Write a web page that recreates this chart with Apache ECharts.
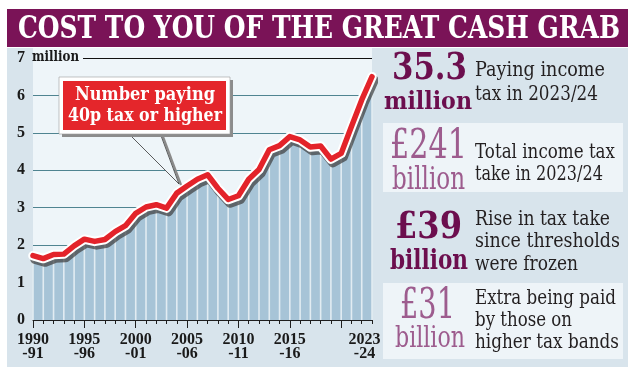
<!DOCTYPE html>
<html><head><meta charset="utf-8">
<script src="https://cdn.jsdelivr.net/npm/echarts@6/dist/echarts.min.js"></script>
<style>html,body{margin:0;padding:0;background:#fff}#c{width:636px;height:382px}</style>
</head><body><div id="c"></div>
<script>
// ---------- DATA ----------
const categories = ['1990','1991','1992','1993','1994','1995','1996','1997','1998','1999',
  '2000','2001','2002','2003','2004','2005','2006','2007','2008','2009',
  '2010','2011','2012','2013','2014','2015','2016','2017','2018','2019',
  '2020','2021','2022','2023'];
// Number paying 40p tax or higher (millions)
const higherRatePayers = [1.72,1.64,1.75,1.76,1.98,2.16,2.10,2.15,2.36,2.52,
  2.85,3.02,3.08,2.99,3.39,3.58,3.76,3.88,3.52,3.22,
  3.32,3.76,4.02,4.55,4.66,4.90,4.81,4.62,4.65,4.30,
  4.45,5.17,5.88,6.50];
const xLabelYears  = ['1990','1995','2000','2005','2010','2015','2023'];
const xLabelSuffix = ['-91','-96','-01','-06','-11','-16','-24'];
const majorTickYears = ['1990','1995','2000','2005','2010','2015','2020'];
const yMin = 0, yMax = 7, yStep = 1;
const yUnit = 'million';
const titleText = 'COST TO YOU OF THE GREAT CASH GRAB';
const calloutLines = ['Number paying', '40p tax or higher'];
const statFigures = ['35.3', '£241', '£39', '£31'];
const statUnits = ['million', 'billion', 'billion', 'billion'];
const statNotes = [
  ['Paying income', 'tax in 2023/24'],
  ['Total income tax', 'take in 2023/24'],
  ['Rise in tax take', 'since thresholds', 'were frozen'],
  ['Extra being paid', 'by those on', 'higher tax bands']
];

// ---------- STYLE / LAYOUT ----------
const C = {
  titleBar: '#7a1357', panel: '#d8e4ec', plotBg: '#eef5f9', box: '#eef4f8',
  dark: '#6c0e4e', light: '#9d5c8e', text: '#231f20', red: '#e3232a',
  area: '#a7c4d7', sep: '#e2ecf2', grid: '#4f8491'
};
const SERIF = '"DejaVu Serif"';
const NARROW = '"Liberation Sans Narrow"';
const ctx = document.createElement('canvas').getContext('2d');
function txt(str, o) {
  const weight = o.bold ? 'bold' : 'normal';
  ctx.font = weight + ' ' + o.size + 'px ' + (o.family || SERIF);
  const w = ctx.measureText(str).width;
  return {
    type: 'text', x: o.x, y: o.y, scaleX: o.w ? o.w / w : 1, z: o.z || 100,
    style: { text: str, fontSize: o.size, fontWeight: weight, fontFamily: o.family || SERIF,
      fill: o.color, align: 'left', verticalAlign: 'middle' }
  };
}

const figLayout = [
  {x:392, y:69.5, size:38, w:75, bold:true, color:C.dark},
  {x:390, y:147.5, size:41, w:77, bold:false, color:C.light},
  {x:395, y:228.5, size:36.5, w:67, bold:true, color:C.dark},
  {x:400, y:306.5, size:43, w:55, bold:false, color:C.light}
];
const unitLayout = [
  {x:384, y:102, size:25, w:88, bold:true, color:C.dark},
  {x:392, y:180.5, size:32, w:73, bold:false, color:C.light},
  {x:390, y:261.5, size:28.5, w:78, bold:true, color:C.dark},
  {x:395, y:339.5, size:29, w:70, bold:false, color:C.light}
];
const noteLayout = [
  [[70.8,130],[94.5,123]],
  [[152.8,140],[174.5,128]],
  [[219.5,135],[241.8,145],[264.5,103]],
  [[298.8,141],[320.8,97],[342.8,144]]
];

const chart = echarts.init(document.getElementById('c'), null, {renderer: 'canvas'});

const gridLeft = 33, gridRight = 264, gridTop = 58, gridBottom = 62;
const splitColors = [];
for (let v = yMin; v <= yMax; v += yStep) splitColors.push(v === yMin || v === yMax ? 'rgba(0,0,0,0)' : C.grid);

const option = {
  animation: false,
  backgroundColor: '#ffffff',
  grid: { left: gridLeft, right: gridRight, top: gridTop, bottom: gridBottom, containLabel: false },
  xAxis: [{
    type: 'category', data: categories, boundaryGap: false, position: 'bottom',
    axisLine: { show: true, lineStyle: { color: '#1e1e1e', width: 1 } },
    axisTick: { show: true, interval: 0, length: 4, lineStyle: { color: '#1e1e1e', width: 1 } },
    splitLine: { show: false },
    axisLabel: {
      show: true, margin: 13, lineHeight: 14,
      fontFamily: NARROW, fontWeight: 'bold', fontSize: 16, color: '#1a1a1a',
      interval: (i, v) => xLabelYears.indexOf(v) >= 0,
      formatter: (v) => {
        const k = xLabelYears.indexOf(v);
        if (k < 0) return '';
        if (k === xLabelYears.length - 1) return '{e|' + v + '}\n{e|' + xLabelSuffix[k] + '}';
        return v + '\n' + xLabelSuffix[k];
      },
      rich: { e: { fontFamily: NARROW, fontWeight: 'bold', fontSize: 16, color: '#1a1a1a', lineHeight: 14, padding: [0, 15, 0, 0] } }
    }
  }, {
    type: 'category', data: categories, boundaryGap: false, position: 'bottom',
    axisLine: { show: false },
    axisTick: { show: true, length: 8, interval: (i, v) => majorTickYears.indexOf(v) >= 0, lineStyle: { color: '#1e1e1e', width: 1 } },
    axisLabel: { show: false }, splitLine: { show: false }
  }],
  yAxis: {
    type: 'value', min: yMin, max: yMax, interval: yStep,
    axisLine: { show: false }, axisTick: { show: false },
    splitLine: { show: true, lineStyle: { color: splitColors, width: 1 } },
    axisLabel: {
      align: 'left', margin: 16, color: '#1a1a1a',
      fontFamily: NARROW, fontWeight: 'bold', fontSize: 16
    }
  },
  series: [
    { type: 'line', data: higherRatePayers, symbol: 'none', z: 2,
      lineStyle: { width: 0, opacity: 0 }, areaStyle: { color: C.area, opacity: 1 } },
    { type: 'bar', data: higherRatePayers, barWidth: 1.6, z: 2,
      itemStyle: { color: C.sep } },
    { type: 'line', data: higherRatePayers, symbol: 'none', z: 3,
      lineStyle: { width: 9.5, color: '#ffffff', join: 'round', cap: 'round',
        shadowColor: 'rgba(60,60,60,0.7)', shadowOffsetX: 2, shadowOffsetY: 3.5, shadowBlur: 0 } },
    { type: 'line', data: higherRatePayers, symbol: 'none', z: 4,
      lineStyle: { width: 5.5, color: C.red, join: 'round', cap: 'round' } }
  ]
};
chart.setOption(option);

// ---------- DECORATION ----------
const yTopPx = chart.convertToPixel({ yAxisIndex: 0 }, yMax);
const xStartPx = chart.convertToPixel({ xAxisIndex: 0 }, categories[0]);
const xEndPx = chart.convertToPixel({ xAxisIndex: 0 }, categories[categories.length - 1]);
const yZeroPx = chart.convertToPixel({ yAxisIndex: 0 }, yMin);

const g = [];
g.push({ type: 'rect', z: -10, shape: { x: 7, y: 9, width: 621, height: 38 }, style: { fill: C.titleBar } });
g.push({ type: 'rect', z: -10, shape: { x: 7, y: 48, width: 621, height: 319 }, style: { fill: C.panel } });
g.push({ type: 'rect', z: -9, shape: { x: xStartPx, y: 48, width: xEndPx - xStartPx, height: yZeroPx - 48 }, style: { fill: C.plotBg } });
g.push({ type: 'rect', z: -9, shape: { x: 383, y: 123, width: 240, height: 69 }, style: { fill: C.box } });
g.push({ type: 'rect', z: -9, shape: { x: 383, y: 283, width: 240, height: 76 }, style: { fill: C.box } });
// unit label and black top rule beside it
g.push(txt(yUnit, { x: 32, y: yTopPx - 0.5, size: 15, w: 47, bold: true, color: '#1a1a1a' }));
g.push({ type: 'line', z: 5, shape: { x1: 83, y1: Math.round(yTopPx) + 0.5, x2: xEndPx, y2: Math.round(yTopPx) + 0.5 }, style: { stroke: '#111', lineWidth: 1.2 } });
// title
g.push(txt(titleText, { x: 18, y: 29.5, size: 31, w: 602, bold: true, color: '#ffffff' }));
// callout pointer
g.push({ type: 'polyline', z: 90, shape: { points: [[162, 134], [181, 185]] }, style: { stroke: '#8a8a8a', lineWidth: 2.2, fill: null } });
g.push({ type: 'polygon', z: 91, shape: { points: [[128, 133], [160, 133], [179, 184]] }, style: { fill: C.plotBg } });
g.push({ type: 'polyline', z: 92, shape: { points: [[128, 133], [179, 184], [160, 133]] }, style: { stroke: '#333', lineWidth: 0.8, fill: null } });
// callout box
g.push({ type: 'rect', z: 93, shape: { x: 62, y: 80, width: 171, height: 57 }, style: { fill: '#8c8c8c' } });
g.push({ type: 'rect', z: 94, shape: { x: 59, y: 77, width: 171, height: 57 }, style: { fill: '#ffffff', stroke: '#9a9a9a', lineWidth: 0.6 } });
g.push({ type: 'rect', z: 95, shape: { x: 63, y: 81, width: 163, height: 49 }, style: { fill: '#e4262b' } });
g.push(txt(calloutLines[0], { x: 75, y: 95.3, size: 18.4, w: 140, bold: true, color: '#ffffff' }));
g.push(txt(calloutLines[1], { x: 68, y: 116, size: 18.4, w: 154, bold: true, color: '#ffffff' }));
// stats
statFigures.forEach((f, i) => {
  g.push(txt(f, figLayout[i]));
  g.push(txt(statUnits[i], unitLayout[i]));
  statNotes[i].forEach((line, j) => {
    g.push(txt(line, { x: 475, y: noteLayout[i][j][0], size: 20.5, w: noteLayout[i][j][1], bold: false, color: C.text }));
  });
});
chart.setOption({ graphic: { elements: g } });
</script>
</body></html>
